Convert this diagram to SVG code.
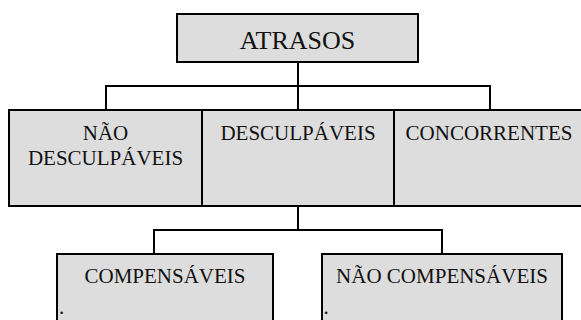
<svg xmlns="http://www.w3.org/2000/svg" width="581" height="320" viewBox="0 0 581 320">
<style>
.box{fill:#dddddd;stroke:#000;stroke-width:2}
.t{font-family:"Liberation Serif","Times New Roman",serif;font-size:21px;fill:#111;text-anchor:middle}
.big{font-size:26px}
.dot{text-anchor:start}
.c{fill:none;stroke:#000;stroke-width:2}
</style>
<rect width="581" height="320" fill="#fff"/>
<g id="connectors">
<path class="c" d="M298,62V110M106,110V86H490V110"/>
<path class="c" d="M298,206V230M154,254V230H442V254"/>
</g>
<g id="atrasos">
<rect class="box" x="177" y="14" width="241" height="48"/>
<text class="t big" x="297.5" y="49">ATRASOS</text>
</g>
<g id="nao-desculpaveis">
<rect class="box" x="9" y="110" width="193" height="96"/>
<text class="t" x="105.5" y="139.5">NÃO</text>
<text class="t" x="105.5" y="165">DESCULPÁVEIS</text>
</g>
<g id="desculpaveis">
<rect class="box" x="202" y="110" width="192" height="96"/>
<text class="t" x="298" y="139.5">DESCULPÁVEIS</text>
</g>
<g id="concorrentes">
<rect class="box" x="394" y="110" width="192" height="96"/>
<text class="t" x="489" y="139.5">CONCORRENTES</text>
</g>
<g id="compensaveis">
<rect class="box" x="57" y="254" width="216" height="80"/>
<text class="t" x="165" y="283">COMPENSÁVEIS</text>
<text class="t dot" x="59" y="314">.</text>
</g>
<g id="nao-compensaveis">
<rect class="box" x="322" y="254" width="240" height="80"/>
<text class="t" x="442" y="283">NÃO COMPENSÁVEIS</text>
<text class="t dot" x="323.5" y="314">.</text>
</g>
</svg>
